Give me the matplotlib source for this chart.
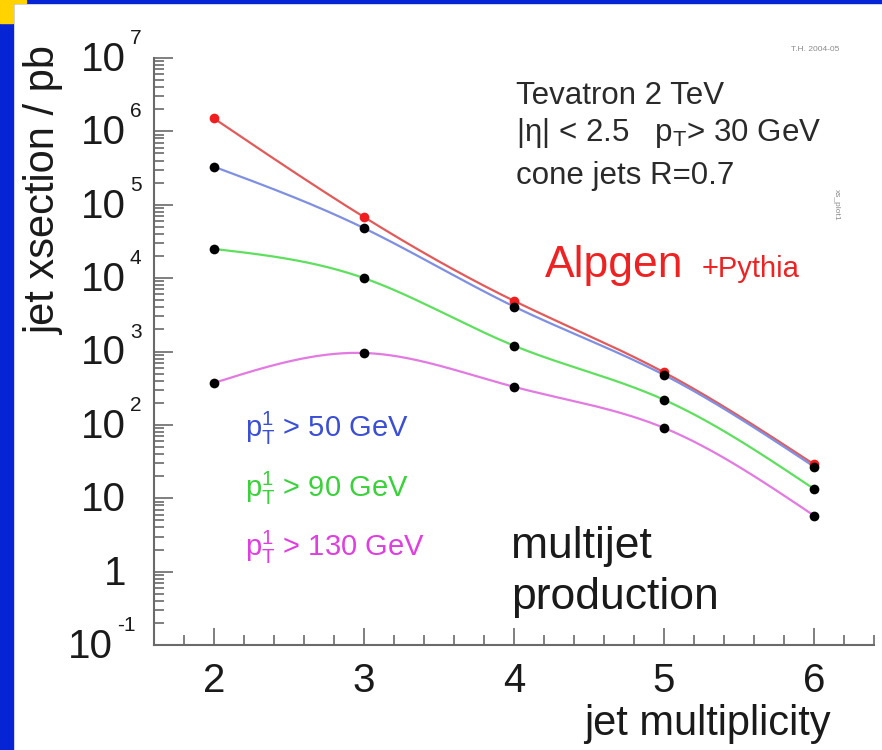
import numpy as np
import matplotlib.pyplot as plt
from matplotlib.patches import Rectangle
from matplotlib import transforms
from matplotlib.ticker import MultipleLocator, LogLocator, NullFormatter, FixedLocator

plt.rcParams['font.family'] = ['Liberation Sans', 'DejaVu Sans']
plt.rcParams['mathtext.fontset'] = 'custom'
plt.rcParams['mathtext.rm'] = 'Liberation Sans'
plt.rcParams['mathtext.it'] = 'Liberation Sans:italic'

# jet cross sections (pb) vs number of jets
n_jets = [2, 3, 4, 5, 6]
xs_alpgen = [1.5e6, 6.8e4, 4.9e3, 5.2e2, 29]
xs_pt50 = [3.3e5, 4.8e4, 4.1e3, 480, 27]
xs_pt90 = [2.5e4, 1.0e4, 1.2e3, 220, 13.4]
xs_pt130 = [373, 955, 330, 91, 5.8]

y_decades = [-1, 0, 1, 2, 3, 4, 5, 6, 7]


def smooth(x, y, n=300):
    # natural cubic spline through log10(y), like the ROOT "C" option
    x = np.asarray(x, float)
    ly = np.log10(y)
    h = np.diff(x)
    k = len(x)
    A = np.zeros((k, k))
    r = np.zeros(k)
    A[0, 0] = A[-1, -1] = 1
    for i in range(1, k - 1):
        A[i, i - 1] = h[i - 1]
        A[i, i] = 2 * (h[i - 1] + h[i])
        A[i, i + 1] = h[i]
        r[i] = 6 * ((ly[i + 1] - ly[i]) / h[i] - (ly[i] - ly[i - 1]) / h[i - 1])
    M = np.linalg.solve(A, r)
    xx = np.linspace(x[0], x[-1], n)
    j = np.clip(np.searchsorted(x, xx) - 1, 0, k - 2)
    t0 = x[j + 1] - xx
    t1 = xx - x[j]
    hj = h[j]
    yy = (M[j] * t0**3 + M[j + 1] * t1**3) / (6 * hj) \
        + (ly[j] / hj - M[j] * hj / 6) * t0 \
        + (ly[j + 1] / hj - M[j + 1] * hj / 6) * t1
    return xx, 10**yy


W, H = 882, 750
fig = plt.figure(figsize=(W / 100, H / 100), dpi=100)


def fx(px):
    return px / W


def fy(py):
    return 1 - py / H


# slide frame: blue bars, yellow corner, gradient strip on top
blue = '#0624d4'
yellow = '#ffd200'
fig.patches.append(Rectangle((0, 0), fx(13), 1, transform=fig.transFigure, color=blue, zorder=0))
fig.patches.append(Rectangle((0, fy(3)), 1, 3 / H, transform=fig.transFigure, color=blue, zorder=0))
fig.patches.append(Rectangle((0, fy(23)), fx(13), 23 / H, transform=fig.transFigure, color=yellow, zorder=1))
fig.patches.append(Rectangle((0, fy(3)), fx(26), 3 / H, transform=fig.transFigure, color=yellow, zorder=1))
gax = fig.add_axes([fx(33), fy(3), 110 / W, 3 / H])
stops = [0, 0.35, 0.65, 0.85, 1]
cols = np.array([[255, 210, 0], [250, 195, 90], [200, 160, 170], [110, 100, 215], [6, 36, 212]]) / 255
t = np.linspace(0, 1, 200)
grad = np.stack([np.interp(t, stops, cols[:, c]) for c in range(3)], axis=-1)[None, :, :]
gax.imshow(grad, aspect='auto', extent=(0, 1, 0, 1))
gax.axis('off')

ax = fig.add_axes([fx(154), fy(645), 720 / W, 587 / H])
ax.set_yscale('log')
ax.set_xlim(1.6, 6.4)
ax.set_ylim(0.1, 1e7)

# Alpgen total first, the pT-cut curves on top
series = [
    (xs_alpgen, '#e25a5a', '#f01e1e'),
    (xs_pt50, '#7f8fe2', 'black'),
    (xs_pt90, '#5ee05e', 'black'),
    (xs_pt130, '#e27ae2', 'black'),
]
for vals, lc, mc in series:
    xx, yy = smooth(n_jets, vals)
    ax.plot(xx, yy, color=lc, lw=1.6, zorder=2)
for vals, lc, mc in series:
    ax.plot(n_jets, vals, 'o', color=mc, ms=7, mec='none', zorder=3)

axis_col = '#6a6a6a'
for s in ['top', 'right']:
    ax.spines[s].set_visible(False)
for s in ['left', 'bottom']:
    ax.spines[s].set_color(axis_col)
    ax.spines[s].set_linewidth(1.5)

ax.xaxis.set_major_locator(MultipleLocator(1))
ax.xaxis.set_minor_locator(MultipleLocator(0.2))
ax.yaxis.set_major_locator(FixedLocator([10.0**d for d in y_decades]))
ax.yaxis.set_minor_locator(LogLocator(base=10, subs=np.arange(2, 10), numticks=20))
ax.yaxis.set_major_formatter(NullFormatter())
ax.yaxis.set_minor_formatter(NullFormatter())
ax.tick_params(axis='both', which='both', direction='in', color=axis_col, width=1.2)
ax.tick_params(axis='y', which='major', length=14)
ax.tick_params(axis='y', which='minor', length=7)
ax.tick_params(axis='x', which='major', length=12, labelsize=29, pad=12, labelcolor='#1a1a1a')
ax.tick_params(axis='x', which='minor', length=7)

# y tick labels in the ROOT style: "10" with a small raised exponent
ytr = transforms.blended_transform_factory(ax.transAxes, ax.transData)


def off(dx, dy):
    return ytr + transforms.ScaledTranslation(dx / 100, dy / 100, fig.dpi_scale_trans)


for d in y_decades:
    v = 10.0**d
    if d in (0, 1):
        ax.text(0, v, '1' if d == 0 else '10', transform=off(-28, -2), ha='right', va='center',
                fontsize=29, color='#1a1a1a')
    else:
        e = str(d)
        shift = 13 * (len(e) - 1)
        ax.text(0, v, '10', transform=off(-28 - shift, -2), ha='right', va='center',
                fontsize=29, color='#1a1a1a')
        ax.text(0, v, e, transform=off(-24 - shift, 14), ha='left', va='baseline',
                fontsize=15, color='#1a1a1a')

ax.set_ylabel('jet xsection / pb', fontsize=30, loc='top', color='#1a1a1a')
ax.yaxis.set_label_coords(-0.125, 1.02)
ax.set_xlabel('jet multiplicity', fontsize=30, loc='right', color='#1a1a1a')
ax.xaxis.set_label_coords(0.94, -0.101)

# annotations
txt = '#2a2a2a'
fig.text(fx(516), fy(104), 'Tevatron 2 TeV', fontsize=22.5, color=txt)
fig.text(fx(516), fy(141), r'|η| < 2.5   p$_{\mathrm{T}}$> 30 GeV', fontsize=22.5, color=txt)
fig.text(fx(516), fy(184), 'cone jets R=0.7', fontsize=22.5, color=txt)
fig.text(fx(545), fy(277), 'Alpgen', fontsize=32, color='#ee2222')
fig.text(fx(702), fy(277), '+Pythia', fontsize=21, color='#ee2222')
fig.text(fx(245), fy(437), r'p$_{\mathrm{T}}^{1}$ > 50 GeV', fontsize=21, color='#3a4ed6')
fig.text(fx(245), fy(497), r'p$_{\mathrm{T}}^{1}$ > 90 GeV', fontsize=21, color='#3ad23a')
fig.text(fx(245), fy(556), r'p$_{\mathrm{T}}^{1}$ > 130 GeV', fontsize=21, color='#e03ee0')
fig.text(fx(511), fy(558), 'multijet', fontsize=32, color='#1a1a1a')
fig.text(fx(511), fy(609), 'production', fontsize=32, color='#1a1a1a')
fig.text(fx(815), fy(51), 'T.H. 2004-05', fontsize=6, color='#8a8a8a', ha='center')
fig.text(fx(836), fy(205), 'xs_plot1', fontsize=6, color='#8a8a8a', rotation=-90,
         ha='center', va='center')

fig.savefig('out.png', dpi=100)
